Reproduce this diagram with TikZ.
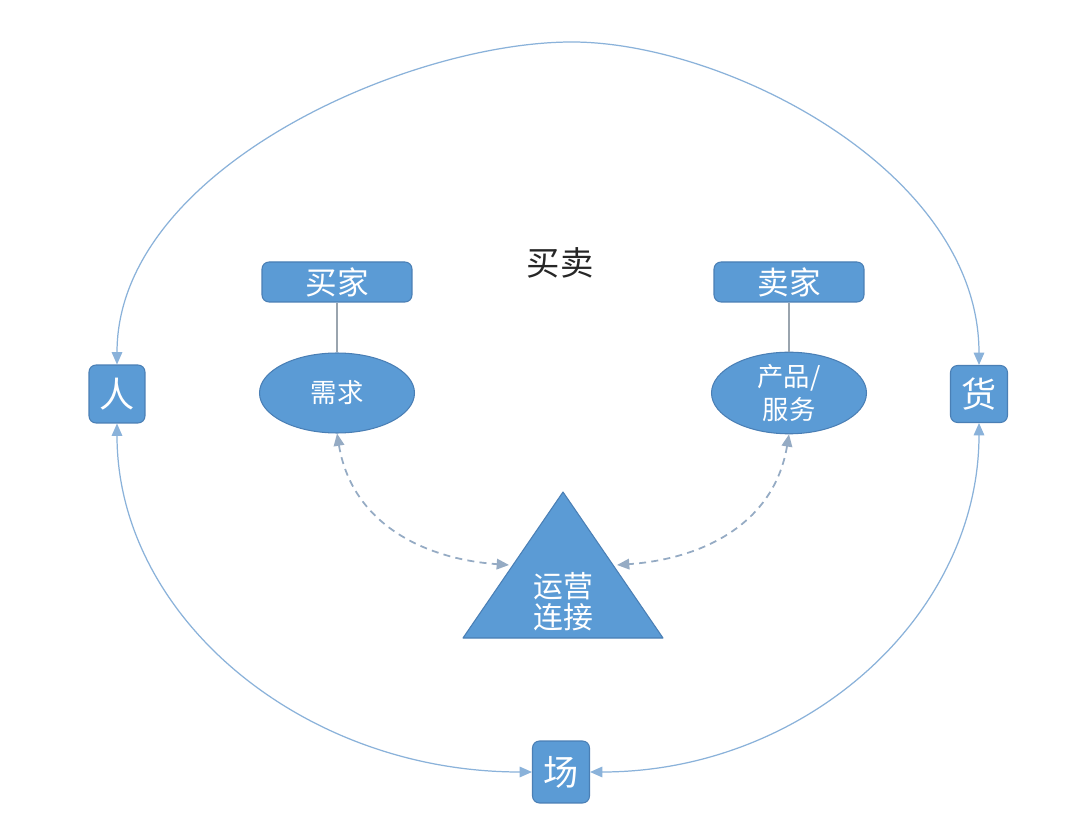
\documentclass[tikz,border=0pt]{standalone}
\usepackage{fontspec}
\setmainfont{Noto Sans CJK SC}
\newfontfamily\cjk{Noto Sans CJK SC}
\usetikzlibrary{shapes.geometric,arrows.meta,calc}
\definecolor{boxblue}{HTML}{5B9BD5}
\definecolor{boxedge}{HTML}{4A7FB5}
\definecolor{arcblue}{HTML}{8AB2DA}
\definecolor{dashgray}{HTML}{95ABC4}
\definecolor{stemgray}{HTML}{9AA4AE}
\tikzset{
  x=0.02cm, y=-0.02cm,
  sqbox/.style={draw=boxedge, fill=boxblue, rounded corners=4pt, line width=0.6pt, text=white, inner sep=0pt, font=\cjk\fontsize{20}{22}\selectfont},
  rolebox/.style={draw=boxedge, fill=boxblue, rounded corners=4pt, line width=0.6pt, text=white, inner sep=0pt, minimum width=3cm, minimum height=0.8cm, font=\cjk\fontsize{18}{20}\selectfont},
  needell/.style={ellipse, draw=boxedge, fill=boxblue, line width=0.6pt, text=white, inner sep=0pt, minimum width=3.1cm, minimum height=1.6cm, align=center},
  arcline/.style={draw=arcblue, line width=0.7pt, {Triangle[length=7pt,width=6pt]}-{Triangle[length=7pt,width=6pt]}},
  dashline/.style={draw=dashgray, line width=1pt, dash pattern=on 4pt off 3pt, {Triangle[length=7pt,width=6pt]}-{Triangle[length=7pt,width=6pt]}},
  stem/.style={draw=stemgray, line width=0.7pt}
}
\begin{document}
\begin{tikzpicture}
\useasboundingbox (0,0) rectangle (1065,820);
\fill[white] (0,0) rectangle (1065,820);

% outer nodes
\node[sqbox, minimum width=1.12cm, minimum height=1.16cm] (ren) at (117,394) {人};
\node[sqbox, minimum width=1.14cm, minimum height=1.14cm] (huo) at (979,394) {货};
\node[sqbox, minimum width=1.14cm, minimum height=1.24cm] (chang) at (561,772) {场};

% title
\node[font=\cjk\fontsize{19}{21}\selectfont, text=black!85] (maimai) at (560,263) {买卖};

% buyer / seller
\node[rolebox] (buyer) at (337,282) {买家};
\node[rolebox] (seller) at (789,282) {卖家};
\node[needell, font=\cjk\fontsize{15}{17}\selectfont] (need) at (337,393) {需求};
\node[needell, font=\cjk\fontsize{15}{19}\selectfont] (prod) at (789,393) {产品/\\服务};
\draw[stem] (buyer.south) -- (need.north);
\draw[stem] (seller.south) -- (prod.north);

% triangle
\coordinate (apex) at (563,492);
\coordinate (bl) at (463,638);
\coordinate (br) at (663,638);
\filldraw[fill=boxblue, draw=boxedge, line width=0.6pt, line join=round] (apex) -- (bl) -- (br) -- cycle;
\node[text=white, align=center, font=\cjk\fontsize{17}{17.5}\selectfont] (ops) at (563,602) {运营\\连接};
\coordinate (tl) at ($(apex)!0.5!(bl)+(-4,0)$);
\coordinate (tr) at ($(apex)!0.5!(br)+(4,0)$);

% dashed connectors
\draw[dashline] (need.south) .. controls ($(need.south)+(15,90)$) and ($(tl)+(-85,-6)$) .. (tl);
\draw[dashline] (prod.south) .. controls ($(prod.south)+(-15,90)$) and ($(tr)+(85,-6)$) .. (tr);

% outer arcs
\coordinate (top) at (572,42);
\draw[arcline] (ren.north) .. controls ($(ren.north)+(0,-195)$) and ($(top)+(-165,0)$) .. (top)
  .. controls ($(top)+(152,0)$) and ($(huo.north)+(0,-195)$) .. (huo.north);
\draw[arcline] (ren.south) .. controls ($(ren.south)+(0,193)$) and ($(chang.west)+(-230,0)$) .. (chang.west);
\draw[arcline] (huo.south) .. controls ($(huo.south)+(0,193)$) and ($(chang.east)+(215,0)$) .. (chang.east);
\end{tikzpicture}
\end{document}
